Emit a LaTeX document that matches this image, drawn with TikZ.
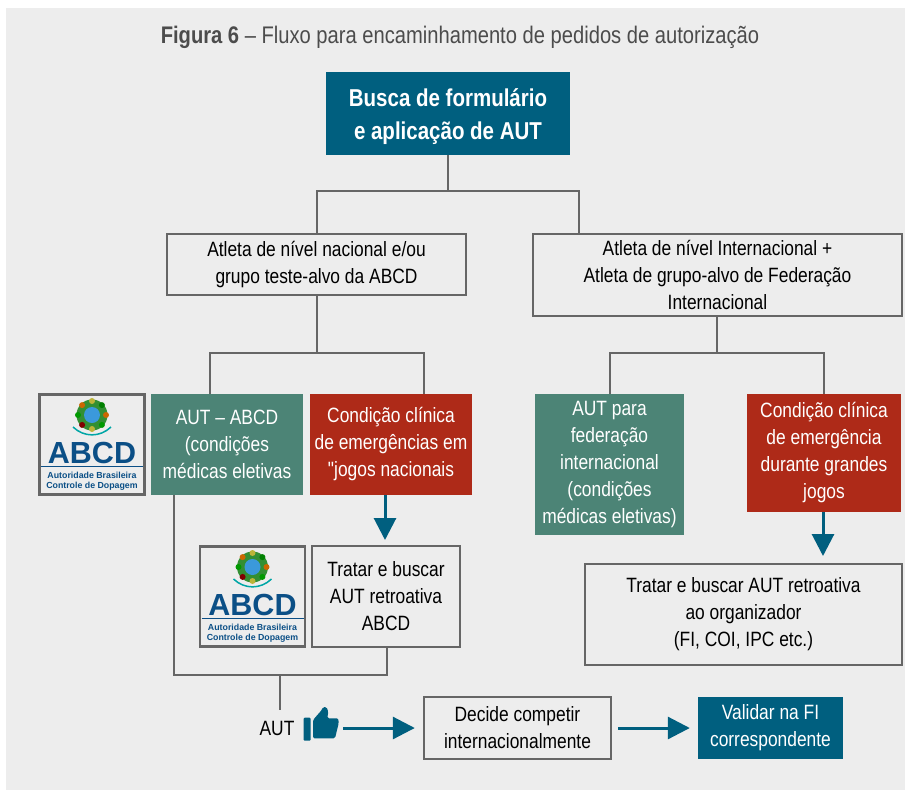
\documentclass[tikz,border=0pt]{standalone}
\usepackage{fontspec}
\setmainfont[FakeStretch=0.84]{Liberation Sans}
\newfontfamily\logofont{Liberation Sans}
\newfontfamily\quotefont[FakeStretch=0.84]{Liberation Sans}
\usetikzlibrary{arrows.meta}
\definecolor{bgfig}{HTML}{EDEDED}
\definecolor{tealfig}{HTML}{005F7F}
\definecolor{greenfig}{HTML}{4C8476}
\definecolor{redfig}{HTML}{AE2A18}
\definecolor{linefig}{HTML}{666666}
\definecolor{logoblue}{HTML}{0B4F86}
\tikzset{
  basebox/.style={align=center,inner sep=0pt,font=\fontsize{20.7}{27}\selectfont},
  outlinebox/.style={basebox,draw=linefig,line width=2.4pt,text=black},
  colorbox/.style={basebox,text=white},
  logobox/.style={draw=linefig,line width=2.4pt,minimum width=105pt,minimum height=100pt,inner sep=0pt},
  linkline/.style={draw=linefig,line width=2.4pt},
  flowarrow/.style={draw=tealfig,fill=tealfig,line width=3pt,-{Triangle[length=22pt,width=22pt]}}
}
% logo: name, x, y of its centre
\newcommand{\abcdlogo}[3]{
  \node[logobox] (#1) at (#2,#3) {};
  \begin{scope}[shift={(#2,#3)}]
    \fill[green!45!black!80] (0,-29.5) circle [radius=15.5];
    \foreach \ang/\col in {0/orange!80!black,45/green!60!black,90/yellow!70!black,135/red!50!black,180/green!60!black,225/orange!80!black,270/yellow!70!black,315/green!50!black}
      \fill[\col] (\ang:14) ++(0,-29.5) circle [radius=3];
    \fill[cyan!70!blue!80] (0,-29.5) circle [radius=8];
    \draw[teal!70!cyan,line width=1.5pt] (-19,-17.5) .. controls (-8,-7) and (8,-7) .. (19,-17.5);
    \node[font=\logofont\bfseries\fontsize{30.5}{30}\selectfont,text=logoblue,inner sep=0pt] (#1name) at (0,8) {ABCD};
    \draw[logoblue,line width=1.6pt] (-51,22) -- (51,22);
    \node[font=\logofont\bfseries\fontsize{8.8}{8.8}\selectfont,text=logoblue,inner sep=0pt] (#1lineone) at (0,30.5) {Autoridade Brasileira};
    \node[font=\logofont\bfseries\fontsize{8.8}{8.8}\selectfont,text=logoblue,inner sep=0pt] (#1linetwo) at (0,41.5) {Controle de Dopagem};
  \end{scope}
}
\begin{document}
\begin{tikzpicture}[x=1pt,y=-1pt]
\useasboundingbox (0,0) rectangle (905,790);
\fill[bgfig] (6,8) rectangle (905,790);
\node[font=\fontsize{24}{28}\selectfont,text=black!70,inner sep=0pt] (title) at (460,37.5) {\textbf{Figura 6} -- Fluxo para encaminhamento de pedidos de autorização};
% boxes
\node[colorbox,fill=tealfig,minimum width=244pt,minimum height=83pt,font=\bfseries\fontsize{24.4}{33}\selectfont] (busca) at (448,113.5) {\rule{0pt}{25pt}Busca de formulário\\e aplicação de AUT};
\node[outlinebox,minimum width=299pt,minimum height=61pt] (nacional) at (316.5,264.5) {Atleta de nível nacional e/ou\\grupo teste-alvo da ABCD};
\node[outlinebox,minimum width=369pt,minimum height=82pt] (internacional) at (717.5,275) {Atleta de nível Internacional +\\Atleta de grupo-alvo de Federação\\Internacional};
\abcdlogo{logoum}{92}{444.5}
\node[colorbox,fill=greenfig,minimum width=152pt,minimum height=101pt] (eletivaum) at (227,444.5) {AUT -- ABCD\\(condições\\médicas eletivas};
\node[colorbox,fill=redfig,minimum width=162pt,minimum height=101pt] (emergum) at (391,444.5) {Condição clínica\\de emergências em\\{\quotefont"}jogos nacionais};
\abcdlogo{logodois}{252.5}{596.5}
\node[outlinebox,minimum width=148pt,minimum height=101pt] (tratarum) at (386,596.5) {Tratar e buscar\\AUT retroativa\\ABCD};
\node[colorbox,fill=greenfig,minimum width=149pt,minimum height=141pt] (eletivadois) at (609.5,464.5) {AUT para\\federação\\internacional\\(condições\\médicas eletivas)};
\node[colorbox,fill=redfig,minimum width=154pt,minimum height=118pt] (emergdois) at (824,453) {Condição clínica\\de emergência\\durante grandes\\jogos};
\node[outlinebox,minimum width=317pt,minimum height=101pt] (tratardois) at (743.5,614.5) {Tratar e buscar AUT retroativa\\ao organizador\\(FI, COI, IPC etc.)};
\node[font=\fontsize{20.7}{24}\selectfont,inner sep=0pt] (aut) at (277,728) {AUT};
\node[outlinebox,minimum width=187pt,minimum height=62pt] (decide) at (517.5,728) {Decide competir\\internacionalmente};
\node[colorbox,fill=tealfig,minimum width=145pt,minimum height=62pt] (validar) at (770.5,728) {Validar na FI\\correspondente};
% branching points
\coordinate (splitbusca) at (448,191);
\coordinate (nacionaltop) at (317,234);
\coordinate (internacionaltop) at (579,234);
\coordinate (splitnacional) at (317,353);
\coordinate (eletivaumtop) at (210,394);
\coordinate (emergumtop) at (424,394);
\coordinate (splitinter) at (717,353);
\coordinate (eletivadoistop) at (610,394);
\coordinate (emergdoistop) at (824,394);
\coordinate (eletivaumout) at (174,495);
\coordinate (tratarumout) at (387,647);
\coordinate (joinaut) at (174,675);
\coordinate (joinstem) at (280,675);
\coordinate (stemend) at (280,710);
\coordinate (emergumout) at (385,495);
\coordinate (tratarumin) at (385,546);
\coordinate (emergdoisout) at (823,512);
\coordinate (tratardoisin) at (823,564);
\coordinate (thumbout) at (343,728);
\coordinate (decideout) at (618,728);
% connectors
\draw[linkline] (busca.south -| splitbusca) -- (splitbusca);
\draw[linkline] (nacionaltop) |- (splitbusca) -| (internacionaltop);
\draw[linkline] (nacional.south -| splitnacional) -- (splitnacional);
\draw[linkline] (eletivaumtop) |- (splitnacional) -| (emergumtop);
\draw[linkline] (internacional.south -| splitinter) -- (splitinter);
\draw[linkline] (eletivadoistop) |- (splitinter) -| (emergdoistop);
\draw[linkline] (eletivaumout) -- (joinaut) -| (tratarumout);
\draw[linkline] (joinstem) -- (stemend);
\draw[flowarrow,shorten >=6pt] (emergumout) -- (tratarumin);
\draw[flowarrow,shorten >=8pt] (emergdoisout) -- (tratardoisin);
\draw[flowarrow,shorten >=8pt] (thumbout) -- (decide.west);
\draw[flowarrow,shorten >=8pt] (decideout) -- (validar.west);
% thumb
\fill[tealfig,rounded corners=1pt] (303.7,717.7) rectangle (310.7,740.7);
\fill[tealfig,rounded corners=1.5pt] (313,720) -- (321.7,710) -- (323,707) -- (326.5,707) -- (328.3,711.7) -- (327.3,718.3) -- (338.3,718.3) -- (338.7,723.3) -- (335,738.3) -- (313,738.3) -- cycle;
\end{tikzpicture}
\end{document}
